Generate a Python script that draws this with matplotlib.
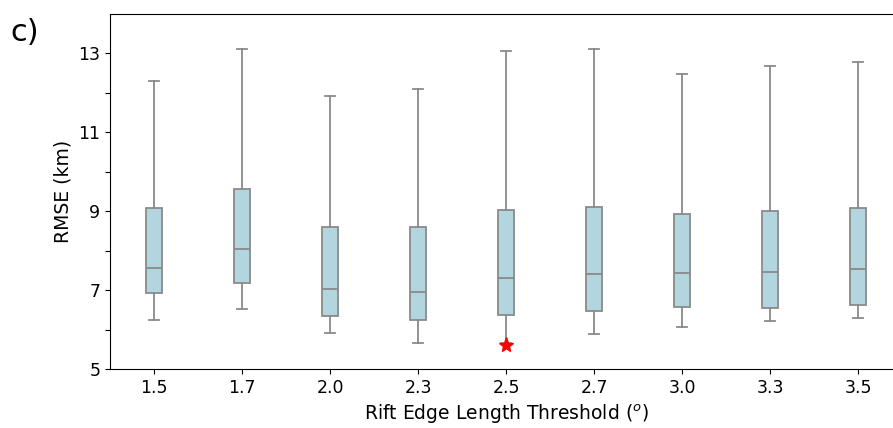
import matplotlib.pyplot as plt

# RMSE statistics per rift edge length threshold
thresholds = ['1.5', '1.7', '2.0', '2.3', '2.5', '2.7', '3.0', '3.3', '3.5']
whisker_low = [6.24, 6.53, 5.92, 5.66, 5.66, 5.88, 6.06, 6.21, 6.29]
q1 = [6.93, 7.19, 6.34, 6.24, 6.38, 6.46, 6.57, 6.54, 6.63]
median = [7.56, 8.05, 7.03, 6.96, 7.31, 7.41, 7.44, 7.46, 7.54]
q3 = [9.09, 9.56, 8.59, 8.59, 9.04, 9.11, 8.93, 9.00, 9.09]
whisker_high = [12.31, 13.10, 11.93, 12.11, 13.05, 13.12, 12.49, 12.69, 12.79]

best_idx = 4
best_rmse = 5.62

stats = []
for i, lab in enumerate(thresholds):
    stats.append({'label': lab, 'whislo': whisker_low[i], 'q1': q1[i],
                  'med': median[i], 'q3': q3[i], 'whishi': whisker_high[i],
                  'fliers': []})

fig = plt.figure(figsize=(8.93, 4.28), dpi=100)
ax = fig.add_axes([0.1232, 0.1379, 0.887, 0.8294])

edge = '#8a8a8a'
pos = list(range(len(thresholds)))
ax.bxp(stats, positions=pos, widths=0.18, capwidths=0.11, patch_artist=True,
       showfliers=False,
       boxprops=dict(facecolor='#b3d5e0', edgecolor=edge, linewidth=1.3),
       medianprops=dict(color=edge, linewidth=1.3),
       whiskerprops=dict(color=edge, linewidth=1.3),
       capprops=dict(color=edge, linewidth=1.3))

ax.plot(pos[best_idx], best_rmse, marker='*', color='red', markersize=11,
        linestyle='none', zorder=5)

ax.set_xlim(-0.5, 8.5)
ax.set_ylim(5, 14)
ax.set_yticks(range(5, 14))
ax.set_yticklabels([str(v) if v % 2 == 1 else '' for v in range(5, 14)])
ax.set_xticks(pos)
ax.set_xticklabels(thresholds)
ax.tick_params(labelsize=12.5)

ax.set_ylabel('RMSE (km)', fontsize=13.5)
ax.set_xlabel('Rift Edge Length Threshold ($^o$)', fontsize=13.5)

fig.text(0.012, 0.905, 'c)', fontsize=22)

fig.savefig('out.png', dpi=100)
